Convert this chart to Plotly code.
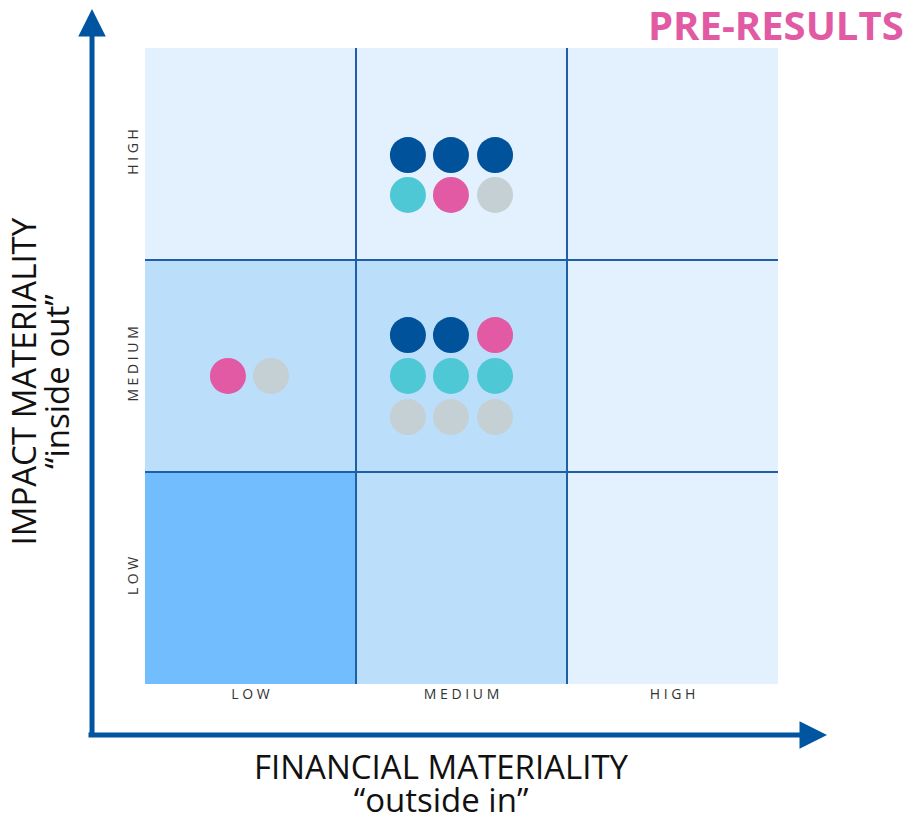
import plotly.graph_objects as go

# ---------------- data ----------------
levels = ["LOW", "MEDIUM", "HIGH"]
cell_x = [0.5, 1.5, 2.5]
cell_y = [0.5, 1.5, 2.5]
# materiality shade per cell (row = impact level, col = financial level)
cell_shade = [
    [2, 1, 0],   # impact LOW
    [1, 1, 0],   # impact MEDIUM
    [0, 0, 0],   # impact HIGH
]
shade_colors = ["#E3F1FE", "#BBDEFB", "#72BDFE"]

# topics (dots) placed in the matrix
dot_x = [1.246, 1.450, 1.659, 1.246, 1.450, 1.659,
         1.246, 1.450, 1.659, 1.246, 1.450, 1.659, 1.246, 1.450, 1.659,
         0.393, 0.597]
dot_y = [2.495, 2.495, 2.495, 2.307, 2.307, 2.307,
         1.646, 1.646, 1.646, 1.453, 1.453, 1.453, 1.259, 1.259, 1.259,
         1.453, 1.453]
dot_group = ["navy", "navy", "navy", "cyan", "pink", "grey",
             "navy", "navy", "pink", "cyan", "cyan", "cyan", "grey", "grey", "grey",
             "pink", "grey"]
group_colors = {"navy": "#00529B", "cyan": "#4FC8D6", "pink": "#E15AA3", "grey": "#C5D0D5"}

x_title = "FINANCIAL MATERIALITY"
x_sub = "“outside in”"
y_title = "IMPACT MATERIALITY"
y_sub = "“inside out”"
badge = "PRE-RESULTS"


def spaced(s):
    return " ".join(list(s))


def two_lines(a, b, px=33):
    sp = '<span style="font-size:%dpx">' % px
    return sp + a + "</span><br>" + sp + b + "</span>"

# ---------------- figure ----------------
fig = go.Figure()

n = len(shade_colors)
cs = []
for i, c in enumerate(shade_colors):
    cs.append([i / n, c])
    cs.append([(i + 1) / n, c])
fig.add_trace(go.Heatmap(
    x=cell_x, y=cell_y, z=cell_shade, zmin=-0.5, zmax=n - 0.5,
    colorscale=cs, showscale=False, hoverinfo="skip",
))

fig.add_trace(go.Scatter(
    x=dot_x, y=dot_y, mode="markers",
    marker=dict(size=36, color=[group_colors[g] for g in dot_group], line=dict(width=0)),
    hoverinfo="skip", showlegend=False,
))

line_col = "#1F5FA5"
for v in [1, 2]:
    fig.add_shape(type="line", xref="x", yref="y", x0=v, x1=v, y0=0, y1=3,
                  line=dict(color=line_col, width=2), layer="above")
    fig.add_shape(type="line", xref="x", yref="y", x0=0, x1=3, y0=v, y1=v,
                  line=dict(color=line_col, width=2), layer="above")

arrow_col = "#0055A0"
# vertical arrow (tip at top)
fig.add_annotation(x=-0.0837, y=1.0708, xref="paper", yref="paper",
                   ax=0, ay=735, showarrow=True, arrowhead=2, arrowsize=1.1,
                   arrowwidth=5, arrowcolor=arrow_col, text="", standoff=0)
# horizontal arrow (tip at right)
fig.add_annotation(x=1.0774, y=-0.0802, xref="paper", yref="paper",
                   ax=-740, ay=0, showarrow=True, arrowhead=2, arrowsize=1.1,
                   arrowwidth=5, arrowcolor=arrow_col, text="", standoff=0)

title_font = dict(family="Open Sans", size=25.5, color="#111111")
fig.add_annotation(x=0.468, y=-0.1555, xref="paper", yref="paper", showarrow=False,
                   text=two_lines(x_title, x_sub), font=title_font,
                   xanchor="center", yanchor="middle", align="center", borderpad=0)
fig.add_annotation(x=-0.1655, y=0.476, xref="paper", yref="paper", showarrow=False,
                   text=two_lines(y_title, y_sub), font=title_font, textangle=-90,
                   xanchor="center", yanchor="middle", align="center", borderpad=0)

fig.add_annotation(x=1.2023, y=1.0362, xref="paper", yref="paper", showarrow=False,
                   text="<b>" + badge + "</b>", xanchor="right", yanchor="middle",
                   font=dict(family="Open Sans", size=40, color="#E15AA3"))

tick_font = dict(family="Open Sans", size=14, color="#333333")
fig.update_xaxes(range=[0, 3], tickvals=cell_x, ticktext=[spaced(t) for t in levels],
                 showgrid=False, zeroline=False, showline=False, ticks="",
                 tickfont=tick_font, fixedrange=True)
fig.update_yaxes(range=[0, 3], tickvals=cell_y, ticktext=[spaced(t) for t in levels],
                 showgrid=False, zeroline=False, showline=False, ticks="",
                 tickangle=-90, tickfont=tick_font, fixedrange=True,
                 ticklabelstandoff=3)

fig.update_layout(
    width=904, height=808,
    margin=dict(l=137, r=134, t=40, b=132, autoexpand=False),
    paper_bgcolor="white", plot_bgcolor="white",
    showlegend=False,
)

fig.write_html("out.html")
